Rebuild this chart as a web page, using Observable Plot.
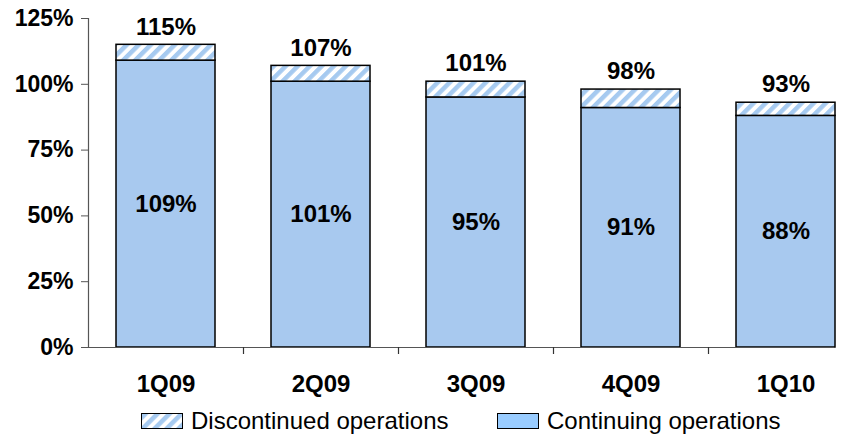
<!DOCTYPE html>
<html>
<head>
<meta charset="utf-8">
<script src="https://cdn.jsdelivr.net/npm/d3@7"></script>
<script src="https://cdn.jsdelivr.net/npm/@observablehq/plot@0.6"></script>
<style>
  body { margin: 0; background: #fff; font-family: "Liberation Sans", Arial, sans-serif; }
  #chart svg text { font-weight: bold; }
  #legend { position: relative; height: 36px; width: 848px; font-size: 24px; color: #000; }
  .item { position: absolute; top: 5px; display: flex; align-items: center; height: 32px; }
  .sw { width: 40px; height: 14px; border: 1.5px solid #000; margin-right: 8px; }
</style>
</head>
<body>
<div id="chart"></div>
<div id="legend">
  <div class="item" style="left:141px"><svg class="sw" style="padding:0;box-sizing:content-box" width="40" height="14"><defs><pattern id="hatchL" patternUnits="userSpaceOnUse" width="8.5" height="8.5" patternTransform="rotate(45)"><rect width="8.5" height="8.5" fill="#ffffff"/><rect width="4.5" height="8.5" fill="#a6caf0"/></pattern></defs><rect width="40" height="14" fill="url(#hatchL)"/></svg><span>Discontinued operations</span></div>
  <div class="item" style="left:497px"><div class="sw" style="background:#99ccff"></div><span>Continuing operations</span></div>
</div>
<script>
const quarters = ["1Q09", "2Q09", "3Q09", "4Q09", "1Q10"];
const continuing = [109, 101, 95, 91, 88];
const total = [115, 107, 101, 98, 93];
const yTicks = [0, 25, 50, 75, 100, 125];

const rows = quarters.map((q, i) => ({q, cont: continuing[i], total: total[i]}));
const font = '"Liberation Sans", Arial, sans-serif';

const svg = Plot.plot({
  width: 848,
  height: 400,
  marginLeft: 88,
  marginRight: 14,
  marginTop: 18,
  marginBottom: 53,
  style: {fontFamily: font, background: "#fff", overflow: "hidden"},
  x: {domain: quarters, range: [88, 863], paddingInner: 0.36, paddingOuter: 0.18, axis: null},
  y: {domain: [0, 125], axis: null},
  marks: [
    Plot.barY(rows, {x: "q", y1: 0, y2: "cont", fill: "#a8c9ef", stroke: "#000", strokeWidth: 1.5}),
    Plot.barY(rows, {x: "q", y1: "cont", y2: "total", fill: "url(#hatch)", stroke: "#000", strokeWidth: 1.5}),
    Plot.ruleY([0], {stroke: "#555", strokeWidth: 1.2}),
    Plot.ruleX(quarters.slice(0, 1), {x: d => d, y1: 0, y2: 125, dx: -77.5, stroke: "#555", strokeWidth: 1.2}),
    Plot.ruleX(quarters.slice(0, 4), {x: d => d, y1: 0, y2: 0, insetBottom: -7, dx: 77.5, stroke: "#333", strokeWidth: 1.2}),
    Plot.axisY({ticks: yTicks, tickSize: 7, tickPadding: 8, tickFormat: d => d + "%", fontSize: 23, stroke: "#555", label: null}),
    Plot.axisX({tickSize: 0, tickPadding: 27, fontSize: 24, label: null}),
    Plot.text(rows, {x: "q", y: "total", text: d => d.total + "%", dy: -18, fontSize: 24, fill: "#000"}),
    Plot.text(rows, {x: "q", y: d => d.cont / 2, text: d => d.cont + "%", fontSize: 24, fill: "#000"})
  ]
});

const ns = "http://www.w3.org/2000/svg";
const defs = document.createElementNS(ns, "defs");
defs.innerHTML = '<pattern id="hatch" patternUnits="userSpaceOnUse" width="8.5" height="8.5" patternTransform="rotate(45)"><rect width="8.5" height="8.5" fill="#ffffff"/><rect width="4.5" height="8.5" fill="#a6caf0"/></pattern>';
svg.insertBefore(defs, svg.firstChild);
document.getElementById("chart").appendChild(svg);
</script>
</body>
</html>
